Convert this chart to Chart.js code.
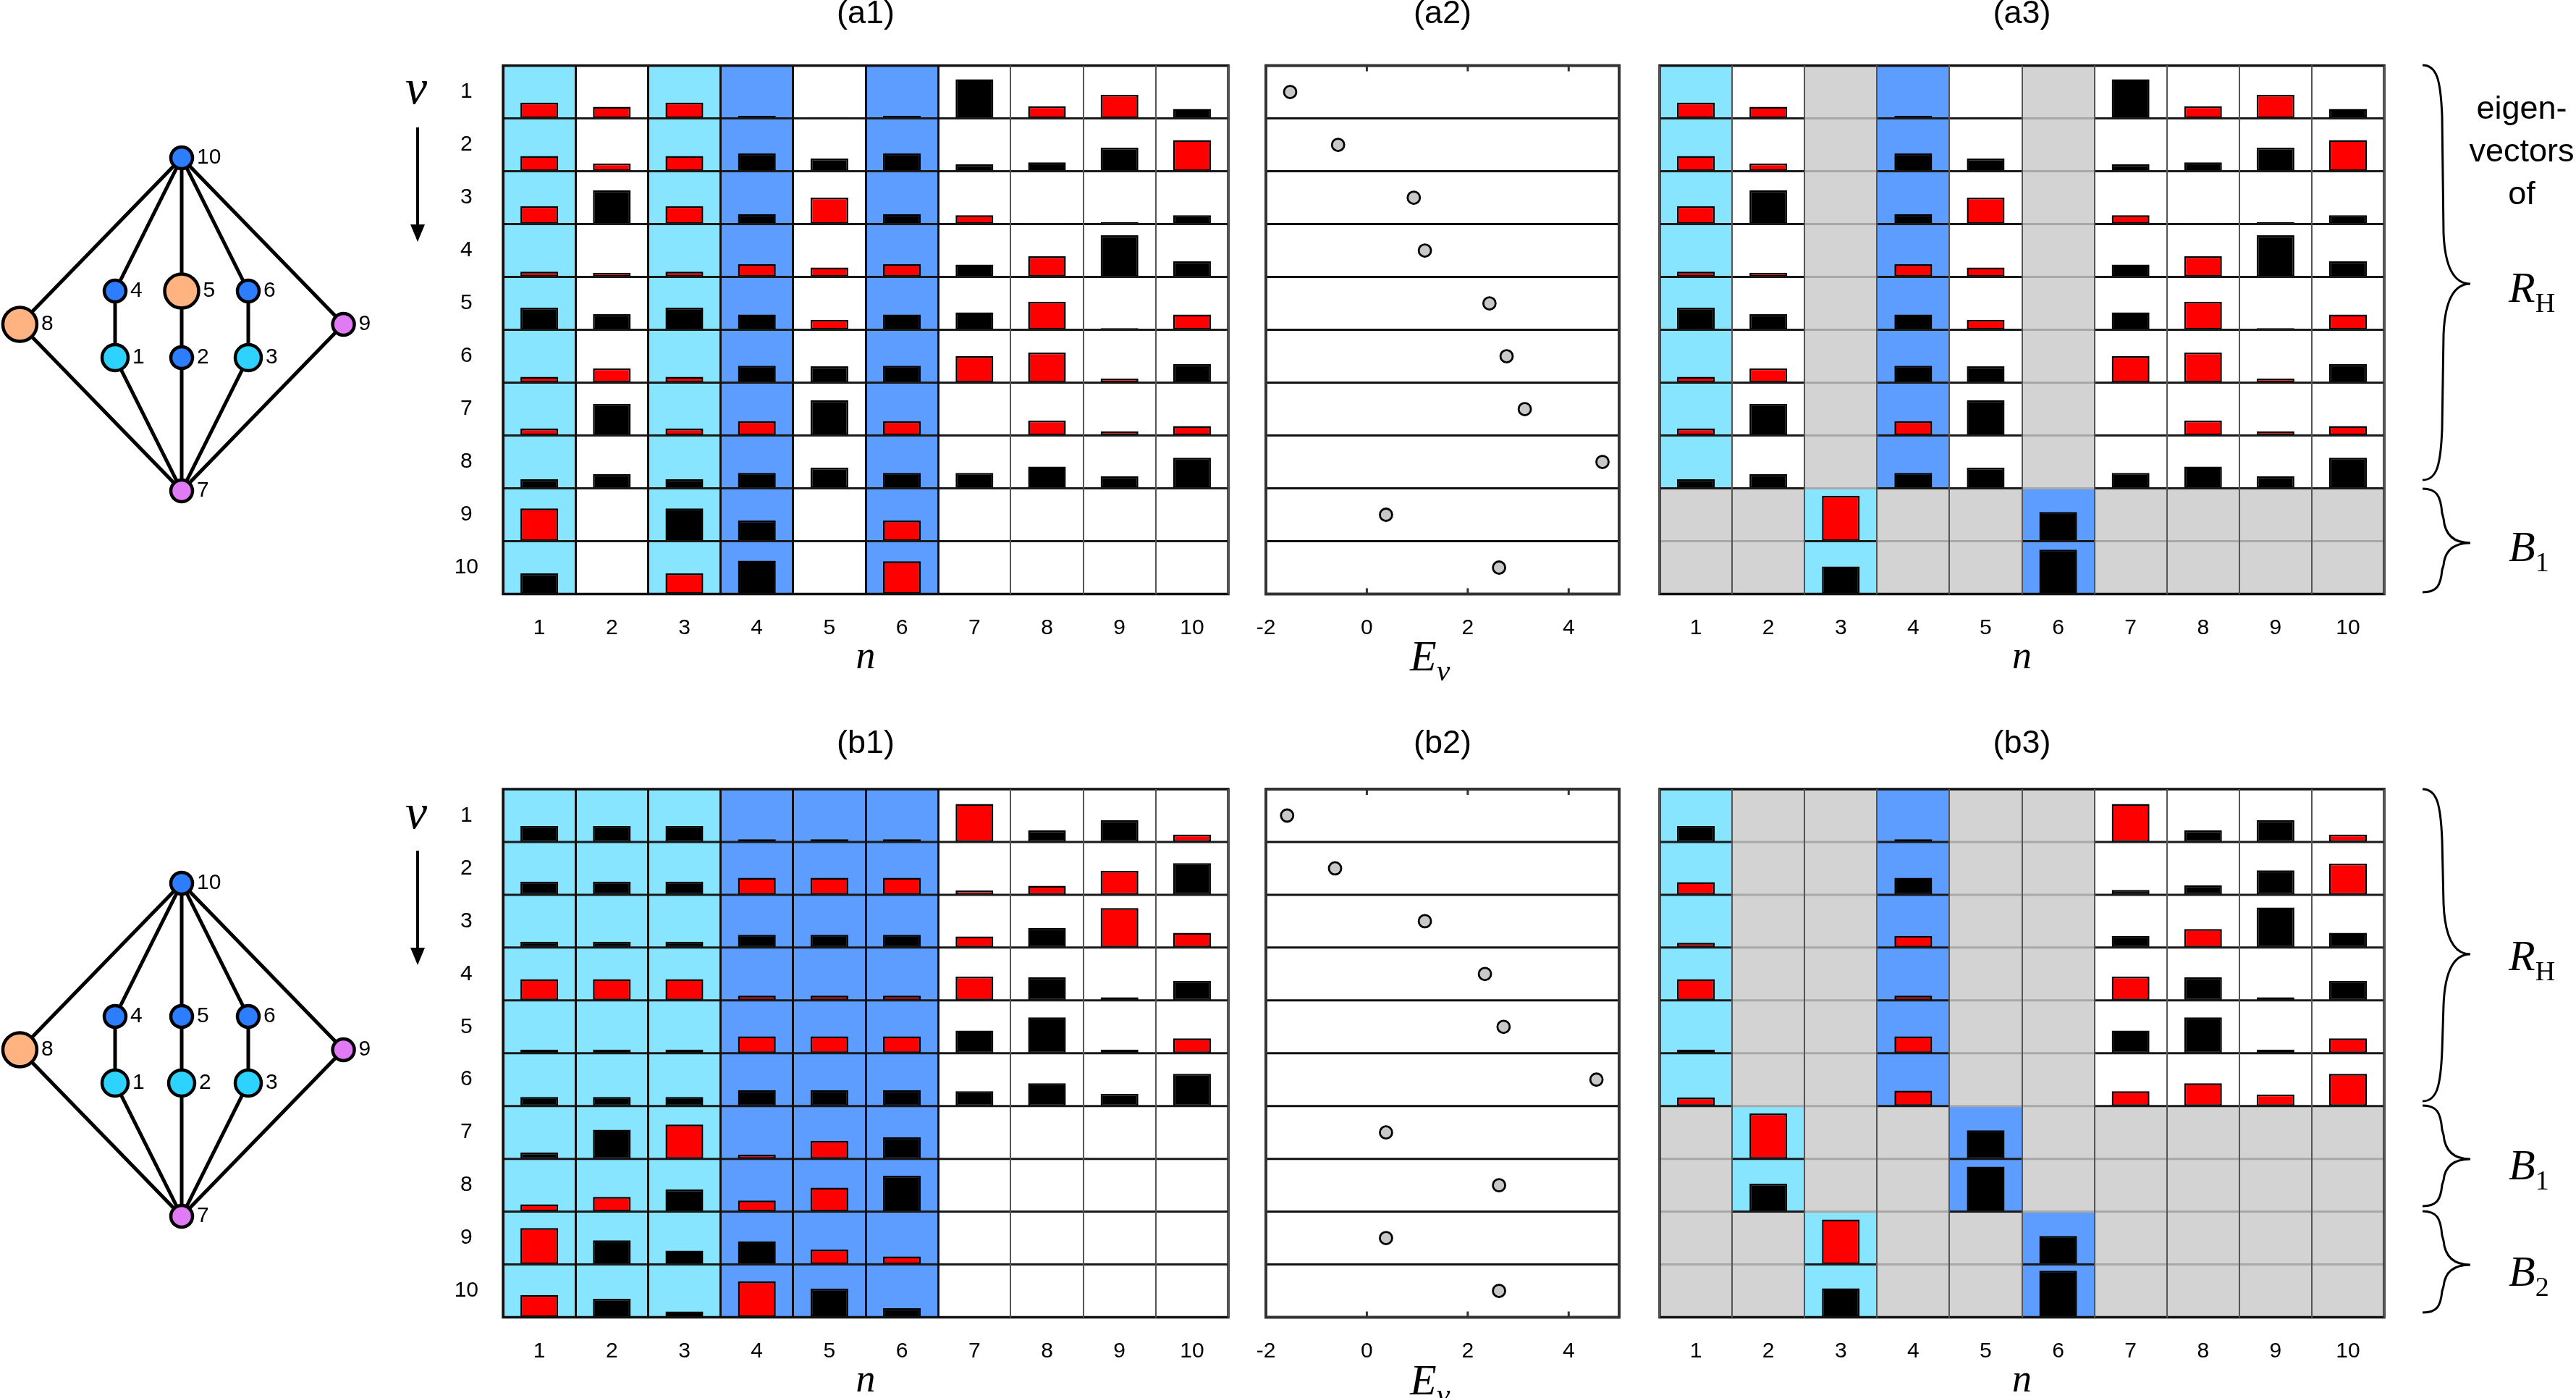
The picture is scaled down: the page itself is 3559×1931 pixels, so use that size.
<!DOCTYPE html>
<html>
<head>
<meta charset="utf-8">
<title>Eigenvectors</title>
<script src="https://cdn.jsdelivr.net/npm/chart.js@4"></script>
<style>
  html, body { margin: 0; padding: 0; background: #fff; width: 3559px; height: 1931px; overflow: hidden; }
  canvas { position: absolute; }
  svg { position: absolute; left: 0; top: 0; }
  .lab { position: absolute; white-space: nowrap; transform: translateY(-50%); color: #000; line-height: 1; }
  .sans { font: 45px "Liberation Sans", sans-serif; transform: translate(-50%, -50%); }
  .math { font: italic 60px "Liberation Serif", serif; }
  .math sub { font-size: 38px; font-style: normal; vertical-align: -14px; line-height: 0; }
  .math sub.greek { font-style: italic; font-size: 42px; }
</style>
</head>
<body>
<canvas id="graphA"></canvas>
<canvas id="a1"></canvas>
<canvas id="a2"></canvas>
<canvas id="a3"></canvas>
<canvas id="graphB"></canvas>
<canvas id="b1"></canvas>
<canvas id="b2"></canvas>
<canvas id="b3"></canvas>
<svg id="notes" width="3559" height="1931"></svg>

<div class="lab math" style="left:560px;top:120px;font-size:68px;">ν</div>
<div class="lab math" style="left:560px;top:1121px;font-size:68px;">ν</div>
<div class="lab math" style="left:1948px;top:906px;font-size:60px;">E<sub class="greek">ν</sub></div>
<div class="lab math" style="left:1948px;top:1906px;font-size:60px;">E<sub class="greek">ν</sub></div>
<div class="lab sans" style="left:3484px;top:149px;">eigen-</div>
<div class="lab sans" style="left:3484px;top:208px;">vectors</div>
<div class="lab sans" style="left:3484px;top:267px;">of</div>
<div class="lab math" style="left:3466px;top:397px;">R<sub>H</sub></div>
<div class="lab math" style="left:3466px;top:755px;">B<sub>1</sub></div>
<div class="lab math" style="left:3466px;top:1320px;">R<sub>H</sub></div>
<div class="lab math" style="left:3466px;top:1609px;">B<sub>1</sub></div>
<div class="lab math" style="left:3466px;top:1756px;">B<sub>2</sub></div>

<script>
// n and nu labels
const siteLabels = ['1', '2', '3', '4', '5', '6', '7', '8', '9', '10'];
const levelLabels = ['1', '2', '3', '4', '5', '6', '7', '8', '9', '10'];
const energyTickValues = [-2, 0, 2, 4];

// bar values per level: positive = red, negative = black, size as a fraction of the row
const a1Values = [
  [0.30, 0.22, 0.30, -0.05, -0.025, -0.05, -0.74, 0.23, 0.445, -0.18],
  [0.29, 0.15, 0.29, -0.34, -0.24, -0.34, -0.13, -0.17, -0.445, 0.59],
  [0.34, -0.64, 0.34, -0.19, 0.50, -0.19, 0.17, -0.025, -0.04, -0.17],
  [0.10, 0.08, 0.10, 0.24, 0.18, 0.24, -0.235, 0.39, -0.79, -0.30],
  [-0.42, -0.30, -0.42, -0.29, 0.19, -0.29, -0.33, 0.53, -0.03, 0.29],
  [0.11, 0.27, 0.11, -0.32, -0.31, -0.32, 0.50, 0.57, 0.08, -0.35],
  [0.13, -0.60, 0.13, 0.27, -0.67, 0.27, -0.02, 0.28, 0.08, 0.18],
  [-0.17, -0.27, -0.17, -0.29, -0.39, -0.29, -0.29, -0.41, -0.23, -0.58],
  [0.62, -0.01, -0.62, -0.39, -0.01, 0.39, -0.01, -0.01, -0.01, -0.01],
  [-0.39, 0, 0.39, -0.63, 0, 0.62, 0, 0, 0, 0]
];
const a3Values = [
  [0.30, 0.22, null, -0.05, -0.025, null, -0.74, 0.23, 0.445, -0.18],
  [0.29, 0.15, null, -0.34, -0.24, null, -0.13, -0.17, -0.445, 0.59],
  [0.34, -0.64, null, -0.19, 0.50, null, 0.17, -0.025, -0.04, -0.17],
  [0.10, 0.08, null, 0.24, 0.18, null, -0.235, 0.39, -0.79, -0.30],
  [-0.42, -0.30, null, -0.29, 0.19, null, -0.33, 0.53, -0.03, 0.29],
  [0.11, 0.27, null, -0.32, -0.31, null, 0.50, 0.57, 0.08, -0.35],
  [0.13, -0.60, null, 0.27, -0.67, null, -0.02, 0.28, 0.08, 0.18],
  [-0.17, -0.27, null, -0.29, -0.39, null, -0.29, -0.41, -0.23, -0.58],
  [null, null, 0.86, null, null, -0.55, null, null, null, null],
  [null, null, -0.52, null, null, -0.84, null, null, null, null]
];
const b1Values = [
  [-0.30, -0.30, -0.30, 0.05, 0.05, 0.05, 0.72, -0.22, -0.41, 0.14],
  [-0.25, -0.25, -0.25, 0.32, 0.32, 0.32, 0.08, 0.17, 0.455, -0.60],
  [-0.11, -0.11, -0.11, -0.24, -0.24, -0.24, 0.21, -0.37, 0.75, 0.28],
  [0.40, 0.40, 0.40, 0.09, 0.09, 0.09, 0.45, -0.44, -0.06, -0.37],
  [-0.07, -0.07, -0.07, 0.32, 0.32, 0.32, -0.43, -0.68, -0.07, 0.28],
  [-0.17, -0.17, -0.17, -0.30, -0.30, -0.30, -0.28, -0.43, -0.23, -0.61],
  [-0.12, -0.55, 0.65, 0.08, 0.34, -0.41, -0.01, -0.01, -0.01, -0.01],
  [0.14, 0.28, -0.42, 0.21, 0.455, -0.68, -0.01, -0.01, -0.01, -0.01],
  [0.69, -0.455, -0.26, -0.44, 0.28, 0.15, -0.01, -0.01, -0.01, -0.01],
  [0.42, -0.35, -0.11, 0.68, -0.54, -0.17, 0, 0, 0, 0]
];
const b3Values = [
  [-0.30, null, null, -0.05, null, null, 0.72, -0.22, -0.41, 0.14],
  [0.24, null, null, -0.32, null, null, -0.09, -0.18, -0.46, 0.59],
  [0.09, null, null, 0.22, null, null, -0.22, 0.35, -0.76, -0.28],
  [0.40, null, null, 0.09, null, null, 0.45, -0.44, -0.06, -0.37],
  [-0.07, null, null, 0.32, null, null, -0.43, -0.68, -0.07, 0.28],
  [0.16, null, null, 0.29, null, null, 0.28, 0.43, 0.22, 0.61],
  [null, 0.86, null, null, -0.54, null, null, null, null, null],
  [null, -0.53, null, null, -0.85, null, null, null, null, null],
  [null, null, 0.85, null, null, -0.54, null, null, null, null],
  [null, null, -0.55, null, null, -0.88, null, null, null, null]
];

// kind of each cell: c = light blue site, b = blue site, w = other site, g = not part of the block
const a1Cells = ['cwcbwbwwww', 'cwcbwbwwww', 'cwcbwbwwww', 'cwcbwbwwww', 'cwcbwbwwww',
                 'cwcbwbwwww', 'cwcbwbwwww', 'cwcbwbwwww', 'cwcbwbwwww', 'cwcbwbwwww'];
const a3Cells = ['cwgbwgwwww', 'cwgbwgwwww', 'cwgbwgwwww', 'cwgbwgwwww', 'cwgbwgwwww',
                 'cwgbwgwwww', 'cwgbwgwwww', 'cwgbwgwwww', 'ggcggbgggg', 'ggcggbgggg'];
const b1Cells = ['cccbbbwwww', 'cccbbbwwww', 'cccbbbwwww', 'cccbbbwwww', 'cccbbbwwww',
                 'cccbbbwwww', 'cccbbbwwww', 'cccbbbwwww', 'cccbbbwwww', 'cccbbbwwww'];
const b3Cells = ['cggbggwwww', 'cggbggwwww', 'cggbggwwww', 'cggbggwwww', 'cggbggwwww',
                 'cggbggwwww', 'gcggbggggg', 'gcggbggggg', 'ggcggbgggg', 'ggcggbgggg'];

// energies
const a2Energies = [-1.52, -0.57, 0.93, 1.15, 2.43, 2.77, 3.13, 4.67, 0.38, 2.62];
const b2Energies = [-1.58, -0.63, 1.15, 2.34, 2.71, 4.55, 0.38, 2.62, 0.38, 2.62];

// the lattice, index 0 is site 1
const nodeNames = ['1', '2', '3', '4', '5', '6', '7', '8', '9', '10'];
const nodeX = [-1, 0, 1, -1, 0, 1, 0, -2.43, 2.43, 0];
const nodeY = [2, 2, 2, 3, 3, 3, 0, 2.5, 2.5, 5];
const edges = [[10, 8], [10, 4], [10, 5], [10, 6], [10, 9], [4, 1], [5, 2], [6, 3], [8, 7], [1, 7], [2, 7], [3, 7], [9, 7]];
const graphAKinds = ['cyan', 'blue', 'cyan', 'blue', 'orange', 'blue', 'pink', 'orange', 'pink', 'blue'];
const graphBKinds = ['cyan', 'cyan', 'cyan', 'blue', 'blue', 'blue', 'pink', 'orange', 'pink', 'blue'];

const cellColors = { c: '#88e5ff', b: '#5d9dff', w: '#ffffff', g: '#d3d3d3' };
const nodeColors = { cyan: '#2dd2ff', blue: '#2d7dff', orange: '#ffb380', pink: '#e07bf5' };
const nodeSizes = { cyan: 18, blue: 15, orange: 23.5, pink: 15 };

Chart.defaults.font.family = '"Liberation Sans", Arial, sans-serif';
Chart.defaults.color = '#000';
Chart.defaults.devicePixelRatio = 1;

function place(id, left, top, width, height) {
  const c = document.getElementById(id);
  c.width = width;
  c.height = height;
  c.style.left = left + 'px';
  c.style.top = top + 'px';
  c.style.width = width + 'px';
  c.style.height = height + 'px';
  return c;
}

// row separators: black under a site cell, grey under a grey one, and the box around the panel
const panelLines = {
  id: 'panelLines',
  afterDatasetsDraw(chart, args, opts) {
    const { ctx, chartArea: area, scales: { x, y } } = chart;
    ctx.save();
    ctx.lineWidth = opts.rowWidth || 3;
    for (let r = 1; r < 10; r++) {
      const py = y.getPixelForValue(r);
      if (opts.cells) {
        for (let c = 0; c < 10; c++) {
          const half = (x.getPixelForValue(1) - x.getPixelForValue(0)) / 2;
          const px = x.getPixelForValue(c);
          ctx.strokeStyle = opts.cells[r - 1][c] === 'g' ? '#a8a8a8' : '#1a1a1a';
          ctx.beginPath();
          ctx.moveTo(px - half, py);
          ctx.lineTo(px + half, py);
          ctx.stroke();
        }
      } else {
        ctx.strokeStyle = '#111';
        ctx.beginPath();
        ctx.moveTo(area.left, py);
        ctx.lineTo(area.right, py);
        ctx.stroke();
      }
    }
    if (opts.energyTicks) {
      ctx.strokeStyle = '#333';
      ctx.lineWidth = 3;
      x.ticks.forEach(t => {
        const px = x.getPixelForValue(t.value);
        ctx.beginPath();
        ctx.moveTo(px, area.top);
        ctx.lineTo(px, area.top + 8);
        ctx.moveTo(px, area.bottom);
        ctx.lineTo(px, area.bottom - 8);
        ctx.stroke();
      });
    }
    ctx.strokeStyle = opts.frame || '#111';
    ctx.lineWidth = opts.frameWidth || 3.5;
    ctx.strokeRect(area.left, area.top, area.right - area.left, area.bottom - area.top);
    ctx.restore();
  }
};

function barPanel(id, title, values, cells, box) {
  const datasets = [];
  values.forEach((row, r) => {
    datasets.push({
      data: row.map(v => (v === null || v === 0) ? null : [r + 1, r + 1 - Math.abs(v)]),
      backgroundColor: row.map(v => v > 0 ? '#ff0000' : '#000000'),
      borderColor: '#000',
      borderWidth: 2.5,
      borderSkipped: false,
      barPercentage: 0.52,
      categoryPercentage: 1,
      grouped: false,
      order: 1
    });
    datasets.push({
      data: row.map(() => [r, r + 1]),
      backgroundColor: cells[r].split('').map(k => cellColors[k]),
      borderWidth: 0,
      barPercentage: 1,
      categoryPercentage: 1,
      grouped: false,
      order: 2
    });
  });
  const scales = {
    x: {
      type: 'category',
      labels: siteLabels,
      offset: true,
      border: { display: false },
      grid: {
        z: 1,
        offset: true,
        drawTicks: false,
        color: ctx => (box.heavy && ctx.index < box.heavy) ? '#111' : '#555',
        lineWidth: ctx => (box.heavy && ctx.index < box.heavy) ? 3 : 2
      },
      ticks: { font: { size: 30 }, padding: 29, maxRotation: 0, autoSkip: false },
      title: { display: true, text: 'n', padding: 0, font: { family: '"Liberation Serif", serif', style: 'italic', size: 54 } },
      afterFit: s => { s.height = box.axisHeight; }
    },
    y: { type: 'linear', min: 0, max: 10, reverse: true, display: false }
  };
  if (box.nu) {
    scales.nu = {
      type: 'category',
      labels: levelLabels,
      position: 'left',
      offset: true,
      border: { display: false },
      grid: { display: false, drawTicks: false },
      ticks: { font: { size: 30 }, padding: 34, crossAlign: 'center', autoSkip: false },
      afterFit: s => { s.width = box.plotLeft - box.left; }
    };
  }
  new Chart(place(id, box.left, box.top, box.width, box.height), {
    type: 'bar',
    data: { labels: siteLabels, datasets },
    options: {
      responsive: false,
      animation: false,
      events: [],
      layout: { padding: { left: box.nu ? 0 : box.plotLeft - box.left, right: box.left + box.width - box.plotRight, top: 0, bottom: 0 } },
      scales,
      plugins: {
        legend: { display: false },
        tooltip: { enabled: false },
        title: { display: true, text: title, fullSize: false, font: { size: 45, weight: 'normal' }, padding: { top: 0, bottom: box.titleGap } },
        panelLines: { cells }
      }
    },
    plugins: [panelLines]
  });
}

function energyPanel(id, title, energies, box) {
  new Chart(place(id, box.left, box.top, box.width, box.height), {
    type: 'scatter',
    data: {
      datasets: [{
        data: energies.map((e, r) => ({ x: e, y: r + 0.5 })),
        backgroundColor: '#c8c8c8',
        borderColor: '#000',
        borderWidth: 2.8,
        pointRadius: 8.5
      }]
    },
    options: {
      responsive: false,
      animation: false,
      events: [],
      layout: { autoPadding: false, padding: { left: box.plotLeft - box.left, right: box.left + box.width - box.plotRight, top: 0, bottom: 0 } },
      scales: {
        x: {
          type: 'linear',
          min: -2,
          max: 5,
          border: { display: false },
          grid: { display: false, drawTicks: false },
          afterBuildTicks: s => { s.ticks = energyTickValues.map(value => ({ value })); },
          ticks: { font: { size: 30 }, padding: 29, maxRotation: 0 },
          afterFit: s => { s.height = box.axisHeight; s.paddingLeft = 0; s.paddingRight = 0; }
        },
        y: { type: 'linear', min: 0, max: 10, reverse: true, display: false }
      },
      plugins: {
        legend: { display: false },
        tooltip: { enabled: false },
        title: { display: true, text: title, fullSize: false, font: { size: 45, weight: 'normal' }, padding: { top: 0, bottom: box.titleGap } },
        panelLines: { frame: '#333', frameWidth: 4, energyTicks: true }
      }
    },
    plugins: [panelLines]
  });
}

// site numbers next to the lattice nodes
const nodeNumbers = {
  id: 'nodeNumbers',
  afterDatasetsDraw(chart, args, opts) {
    const { ctx, scales: { x, y } } = chart;
    ctx.save();
    ctx.font = '30px "Liberation Sans", sans-serif';
    ctx.fillStyle = '#000';
    ctx.textBaseline = 'middle';
    nodeNames.forEach((name, i) => {
      ctx.fillText(name, x.getPixelForValue(nodeX[i]) + nodeSizes[opts.kinds[i]] + 6, y.getPixelForValue(nodeY[i]));
    });
    ctx.restore();
  }
};

function graphPanel(id, kinds, left, top) {
  const datasets = edges.map(([p, q]) => ({
    type: 'scatter',
    showLine: true,
    data: [{ x: nodeX[p - 1], y: nodeY[p - 1] }, { x: nodeX[q - 1], y: nodeY[q - 1] }],
    borderColor: '#000',
    borderWidth: 5,
    pointRadius: 0,
    order: 2
  }));
  datasets.push({
    type: 'scatter',
    data: nodeX.map((v, i) => ({ x: v, y: nodeY[i] })),
    backgroundColor: kinds.map(k => nodeColors[k]),
    pointRadius: kinds.map(k => nodeSizes[k]),
    borderColor: '#000',
    borderWidth: 4.5,
    order: 1
  });
  new Chart(place(id, left, top, 560, 540), {
    type: 'scatter',
    data: { datasets },
    options: {
      responsive: false,
      animation: false,
      events: [],
      layout: { autoPadding: false },
      scales: {
        x: { type: 'linear', min: -251 / 92, max: 309 / 92, display: false },
        y: { type: 'linear', min: -42 / 92, max: 498 / 92, display: false }
      },
      plugins: {
        legend: { display: false },
        tooltip: { enabled: false },
        nodeNumbers: { kinds }
      }
    },
    plugins: [nodeNumbers]
  });
}

const rowA = { top: -7, height: 948, titleGap: 43.6, axisHeight: 120.5 };
const rowB = { top: 1001, height: 939, titleGap: 35, axisHeight: 120.5 };

graphPanel('graphA', graphAKinds, 0, 180);
graphPanel('graphB', graphBKinds, 0, 1182);

barPanel('a1', '(a1)', a1Values, a1Cells, { ...rowA, left: 605, width: 1110, plotLeft: 695, plotRight: 1697, nu: true, heavy: 7 });
energyPanel('a2', '(a2)', a2Energies, { ...rowA, left: 1715, width: 540, plotLeft: 1749, plotRight: 2237 });
barPanel('a3', '(a3)', a3Values, a3Cells, { ...rowA, left: 2275, width: 1035, plotLeft: 2293, plotRight: 3294 });

barPanel('b1', '(b1)', b1Values, b1Cells, { ...rowB, left: 605, width: 1110, plotLeft: 695, plotRight: 1697, nu: true, heavy: 7 });
energyPanel('b2', '(b2)', b2Energies, { ...rowB, left: 1715, width: 540, plotLeft: 1749, plotRight: 2237 });
barPanel('b3', '(b3)', b3Values, b3Cells, { ...rowB, left: 2275, width: 1035, plotLeft: 2293, plotRight: 3294 });

// arrows and curly braces beside the panels
function bracePath(top, tip, bottom) {
  const x0 = 3347, xm = 3376, xt = 3413;
  const a = Math.min(70, (tip - top) * 0.45);
  const b = Math.min(70, (bottom - tip) * 0.45);
  return `M${x0} ${top} C${x0 + 20} ${top} ${xm - 4} ${top + a * 0.3} ${xm - 2} ${top + a}` +
    ` L${xm} ${tip - a} C${xm + 2} ${tip - a * 0.3} ${xt - 22} ${tip} ${xt} ${tip}` +
    ` C${xt - 22} ${tip} ${xm + 2} ${tip + b * 0.3} ${xm} ${tip + b}` +
    ` L${xm - 2} ${bottom - b} C${xm - 4} ${bottom - b * 0.3} ${x0 + 20} ${bottom} ${x0} ${bottom}`;
}
let notes = '';
[[90, 392, 663], [675, 750, 818], [1090, 1318, 1521], [1527, 1601, 1666], [1673, 1747, 1813]].forEach(([t, m, b]) => {
  notes += `<path d="${bracePath(t, m, b)}" fill="none" stroke="#000" stroke-width="3"/>`;
});
[[176, 334], [1175, 1333]].forEach(([y0, y1]) => {
  notes += `<line x1="577" x2="577" y1="${y0}" y2="${y1 - 20}" stroke="#000" stroke-width="4"/>`;
  notes += `<path d="M567 ${y1 - 24} L587 ${y1 - 24} L577 ${y1} Z" fill="#000"/>`;
});
document.getElementById('notes').innerHTML = notes;
</script>
</body>
</html>
